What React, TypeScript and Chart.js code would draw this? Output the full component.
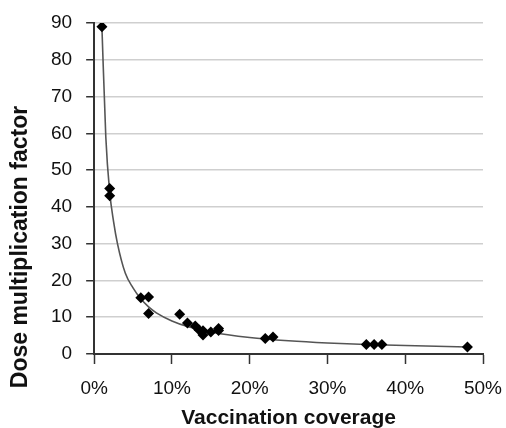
import React, { useEffect, useRef } from "react";
import { Chart, registerables } from "chart.js";

Chart.register(...registerables);

// Observed points (vaccination coverage in %, dose multiplication factor)
const coverage = [1, 2, 2, 6, 7, 7, 11, 12, 13, 13.5, 14, 14, 15, 16, 16, 22, 23, 35, 36, 37, 48];
const doseFactor = [89, 45, 43, 15.3, 15.5, 11, 10.8, 8.4, 7.6, 6.5, 6.3, 5.2, 6, 6.4, 6.9, 4.2, 4.6, 2.6, 2.6, 2.6, 1.9];

// Trend line
const trendX = [1, 1.5, 2, 2.5, 3, 4, 5, 6, 7, 8, 10, 12, 15, 20, 25, 30, 35, 40, 48];
const trendY = [89, 59, 44, 36, 30, 22, 18, 15, 12.8, 11.2, 9, 7.5, 6, 4.5, 3.6, 3, 2.6, 2.3, 1.9];

const xTitle = "Vaccination coverage";
const yTitle = "Dose multiplication factor";
const xMin = 0;
const xMax = 50;
const xStep = 10;
const yMin = 0;
const yMax = 90;
const yStep = 10;

const FONT = "'Liberation Sans', Arial, Helvetica, sans-serif";

export default function App() {
  const ref = useRef<HTMLCanvasElement | null>(null);

  useEffect(() => {
    if (!ref.current) return;
    const yTitlePlugin = {
      id: "yTitlePlugin",
      afterDraw(chart: any) {
        const ctx = chart.ctx;
        ctx.save();
        ctx.translate(21, 247);
        ctx.rotate(-Math.PI / 2);
        ctx.font = `bold 23px ${FONT}`;
        ctx.fillStyle = "#111";
        ctx.textAlign = "center";
        ctx.textBaseline = "middle";
        ctx.fillText(yTitle, 0, 0);
        ctx.restore();
      },
    };
    const chart = new Chart(ref.current, {
      type: "scatter",
      data: {
        datasets: [
          {
            label: "Observed",
            data: coverage.map((x, i) => ({ x, y: doseFactor[i] })),
            pointStyle: "rectRot",
            pointRadius: 5.5,
            backgroundColor: "#000",
            borderColor: "#000",
            borderWidth: 0,
            showLine: false,
            order: 0,
          },
          {
            label: "Trend",
            data: trendX.map((x, i) => ({ x, y: trendY[i] })),
            showLine: true,
            pointRadius: 0,
            borderColor: "#555",
            borderWidth: 1.6,
            cubicInterpolationMode: "monotone",
            order: 1,
          } as any,
        ],
      },
      options: {
        animation: false,
        responsive: true,
        maintainAspectRatio: false,
        layout: { padding: { left: 37, top: 0, right: 0, bottom: 0 } },
        plugins: { legend: { display: false }, tooltip: { enabled: false }, title: { display: false } },
        scales: {
          x: {
            type: "linear",
            min: xMin,
            max: xMax,
            afterFit: (scale: any) => {
              scale.paddingRight = 23;
            },
            ticks: {
              stepSize: xStep,
              callback: (v: any) => `${v}%`,
              font: { family: FONT, size: 19 },
              color: "#111",
              padding: 13,
            },
            grid: { drawOnChartArea: false, tickLength: 10, tickColor: "#333", tickWidth: 1.5 },
            border: { color: "#333", width: 2 },
            title: {
              display: true,
              text: xTitle,
              font: { family: FONT, size: 21, weight: "bold" },
              color: "#111",
              padding: { top: -7, bottom: -3 },
            },
          },
          y: {
            min: yMin,
            max: yMax,
            afterFit: (scale: any) => {
              scale.paddingTop = 23;
            },
            ticks: {
              stepSize: yStep,
              font: { family: FONT, size: 19 },
              color: "#111",
              padding: 14,
            },
            grid: { color: "#cfcfcf", lineWidth: 1.5, tickLength: 8, tickColor: "#333", tickWidth: 1.5 },
            border: { color: "#333", width: 2 },
          },
        },
      },
      plugins: [yTitlePlugin],
    });
    return () => chart.destroy();
  }, []);

  return (
    <div style={{ position: "fixed", left: 0, top: 0, width: 506, height: 428, background: "#fff" }}>
      <canvas ref={ref} />
    </div>
  );
}
